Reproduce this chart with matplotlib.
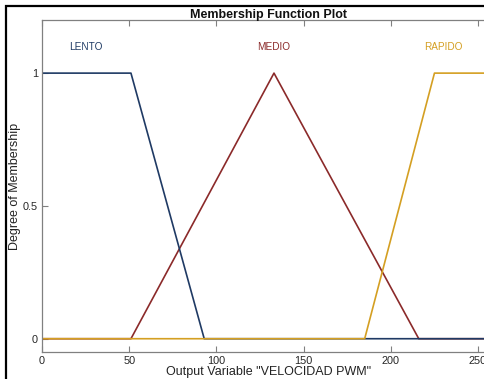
import matplotlib
matplotlib.use("Agg")
import matplotlib.pyplot as plt
from matplotlib.patches import Rectangle

plt.rcParams['font.family'] = ['Liberation Sans', 'DejaVu Sans']

# Membership functions of the output variable
mf_names = ["LENTO", "MEDIO", "RAPIDO"]
lento_x = [0, 0, 51, 93, 260]
lento_y = [0, 1, 1, 0, 0]
medio_x = [0, 51, 133, 216, 260]
medio_y = [0, 0, 1, 0, 0]
rapido_x = [0, 185, 225, 260]
rapido_y = [0, 0, 1, 1]
label_x = [25, 133, 230]
label_y = 1.1
colors = ["#1f3a64", "#8b2a2a", "#d49f22"]

x_range = (0, 260)
x_ticks = [0, 50, 100, 150, 200, 250]
y_ticks = [0, 0.5, 1]
y_ticklabels = ["0", "0.5", "1"]

W, H = 485, 379
fig = plt.figure(figsize=(W / 100, H / 100), dpi=100)

# black frame around the figure region
fig.patches.append(Rectangle((6.5 / W, -0.1), 1.2, 1.1 - 6.5 / H,
                             transform=fig.transFigure, fill=False,
                             edgecolor="black", linewidth=1.6))

ax = fig.add_axes([42 / W, 27 / H, 453.5 / W, 332 / H])

# draw MEDIO and LENTO first, RAPIDO on top
ax.plot(medio_x, medio_y, color=colors[1], linewidth=1.2)
ax.plot(lento_x, lento_y, color=colors[0], linewidth=1.2)
ax.plot(rapido_x, rapido_y, color=colors[2], linewidth=1.2)

for name, xx, c in zip(mf_names, label_x, colors):
    ax.text(xx, label_y, name, color=c, ha="center", va="center", fontsize=7.2)

ax.set_xlim(*x_range)
ax.set_ylim(-0.05, 1.2)
ax.set_xticks(x_ticks)
ax.set_yticks(y_ticks)
ax.set_yticklabels(y_ticklabels)
ax.tick_params(direction="in", length=4, width=0.8, colors="#808080",
               labelcolor="#262626", labelsize=7.8, top=True, right=True, pad=3)
for s in ax.spines.values():
    s.set_color("#808080")
    s.set_linewidth(0.9)

ax.set_title("Membership Function Plot", fontsize=9, fontweight="bold", pad=1.5,
             color="#111111")
ax.set_xlabel('Output Variable "VELOCIDAD PWM"', fontsize=9, labelpad=0, color="#222222")
ax.set_ylabel("Degree of Membership", fontsize=9, labelpad=1, color="#222222")

fig.savefig("out.png", dpi=100)
